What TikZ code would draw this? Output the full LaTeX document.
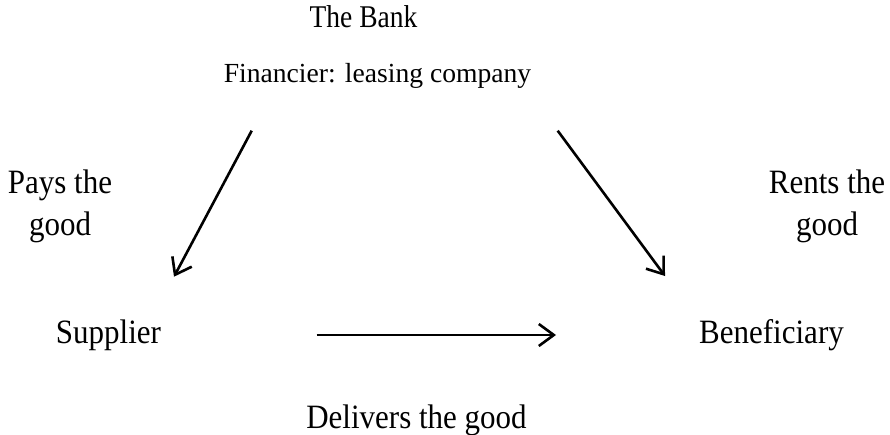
\documentclass[tikz,border=0pt]{standalone}
\usepackage{fontspec}
\setmainfont{Liberation Serif}
\usetikzlibrary{arrows.meta}
\tikzset{
  txt/.style={inner sep=0pt, anchor=base, font=\fontsize{31}{42}\selectfont, align=center},
  arr/.style={line width=2.6pt, -{Straight Barb[length=15pt, width=22pt, line width=2.6pt]}},
}
\newcommand{\vs}[1]{\scalebox{1}[1.1]{#1}}
\begin{document}
\begin{tikzpicture}[x=1pt,y=-1pt]
\useasboundingbox (0,0) rectangle (890,434);
\node[txt, font=\fontsize{27.5}{33}\selectfont] (bank) at (363.5,27) {\scalebox{1}[1.15]{The Bank}};
\node[txt, font=\fontsize{27.6}{33}\selectfont] (fin) at (377.5,82) {Financier: leasing company};
\node[txt] (pays) at (60,235) {\vs{Pays the}\\\vs{good}};
\node[txt] (rents) at (827,235) {\vs{Rents the}\\\vs{good}};
\node[txt] (sup) at (108.5,343) {\vs{Supplier}};
\node[txt] (ben) at (771.5,343) {\vs{Beneficiary}};
\node[txt] (del) at (416.5,428) {\vs{Delivers the good}};
\coordinate (a1) at (251.7,130.7);
\coordinate (a2) at (174,276.7);
\coordinate (b1) at (557.7,130.7);
\coordinate (b2) at (665,276);
\coordinate (c1) at (316.7,335);
\coordinate (c2) at (556,335);
\draw[arr] (a1) -- (a2);
\draw[arr] (b1) -- (b2);
\draw[arr] (c1) -- (c2);
\end{tikzpicture}
\end{document}
